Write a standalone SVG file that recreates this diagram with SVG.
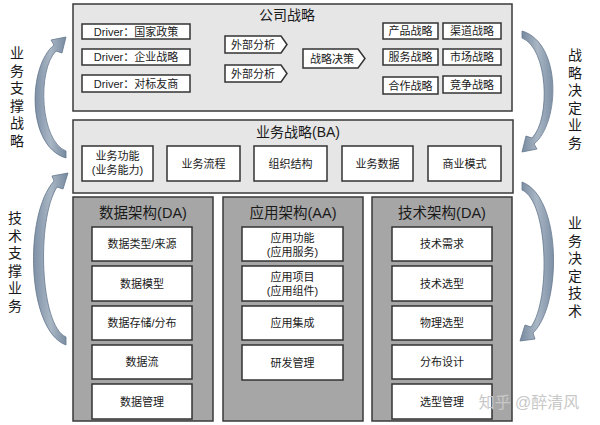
<svg xmlns="http://www.w3.org/2000/svg" width="600" height="425" viewBox="0 0 600 425">
<defs>
<linearGradient id="ag" x1="0" y1="0" x2="1" y2="0">
<stop offset="0" stop-color="#7f91a7"/>
<stop offset="0.5" stop-color="#a9b6c4"/>
<stop offset="1" stop-color="#778aa0"/>
</linearGradient>
<style>
text{font-family:"Liberation Sans","Noto Sans CJK SC",sans-serif;fill:#1a1a1a;text-anchor:middle}
.outer{fill:#e6e6e6;stroke:#3a3a3a;stroke-width:1.5}
.col{fill:#a6a6a6;stroke:#3a3a3a;stroke-width:1.5}
.box{fill:#fff;stroke:#333;stroke-width:1.5}
.t11{font-size:11px}
.t14{font-size:14px}
.t16{font-size:14.5px}
.side{font-size:14px}
.arr{fill:url(#ag);stroke:#64778d;stroke-width:0.8}
.wm{fill:#c8c8c8;font-size:16px}
</style>
</defs>
<rect width="600" height="425" fill="#fff"/>

<g id="company">
<rect class="outer" x="73" y="4" width="439" height="107"/>
<text class="t14" x="287" y="20">公司战略</text>
<g id="drv1"><rect class="box" x="82" y="24" width="108" height="15"/><text class="t11" x="136" y="35.5">Driver：国家政策</text></g>
<g id="drv2"><rect class="box" x="82" y="49" width="108" height="16"/><text class="t11" x="136" y="61">Driver：企业战略</text></g>
<g id="drv3"><rect class="box" x="82" y="75" width="108" height="17"/><text class="t11" x="136" y="87.5">Driver：对标友商</text></g>
<g id="ext1"><path class="box" d="M225 36 H281 L287 44.5 L281 53 H225 Z"/><text class="t11" x="253" y="48.5">外部分析</text></g>
<g id="ext2"><path class="box" d="M225 65 H281 L287 73.5 L281 82 H225 Z"/><text class="t11" x="253" y="77.5">外部分析</text></g>
<g id="decide"><path class="box" d="M303 49 H358 L365 58.5 L358 68 H303 Z"/><text class="t11" x="332" y="62.5">战略决策</text></g>
<g id="s1"><rect class="box" x="383" y="23" width="55" height="16"/><text class="t11" x="410.5" y="35">产品战略</text></g>
<g id="s2"><rect class="box" x="443" y="23" width="58" height="16"/><text class="t11" x="472" y="35">渠道战略</text></g>
<g id="s3"><rect class="box" x="383" y="49" width="55" height="16"/><text class="t11" x="410.5" y="61">服务战略</text></g>
<g id="s4"><rect class="box" x="443" y="49" width="58" height="16"/><text class="t11" x="472" y="61">市场战略</text></g>
<g id="s5"><rect class="box" x="383" y="77" width="55" height="17"/><text class="t11" x="410.5" y="89.5">合作战略</text></g>
<g id="s6"><rect class="box" x="443" y="76" width="58" height="17"/><text class="t11" x="472" y="88.5">竞争战略</text></g>
</g>

<g id="ba">
<rect class="outer" x="73" y="120" width="440" height="73"/>
<text class="t14" x="298" y="137">业务战略(BA)</text>
<g id="ba1"><rect class="box" x="82" y="146" width="71" height="35"/><text class="t11" x="117.5" y="160">业务功能</text><text class="t11" x="117.5" y="174">(业务能力)</text></g>
<g id="ba2"><rect class="box" x="167" y="146" width="73" height="35"/><text class="t11" x="203.5" y="167.5">业务流程</text></g>
<g id="ba3"><rect class="box" x="254" y="146" width="73" height="35"/><text class="t11" x="290.5" y="167.5">组织结构</text></g>
<g id="ba4"><rect class="box" x="342" y="146" width="71" height="35"/><text class="t11" x="377.5" y="167.5">业务数据</text></g>
<g id="ba5"><rect class="box" x="428" y="146" width="73" height="35"/><text class="t11" x="464.5" y="167.5">商业模式</text></g>
</g>

<g id="da">
<rect class="col" x="73" y="197" width="140" height="224"/>
<text class="t16" x="143" y="218">数据架构(DA)</text>
<g id="da1"><rect class="box" x="92" y="227" width="100" height="34"/><text class="t11" x="142" y="248">数据类型/来源</text></g>
<g id="da2"><rect class="box" x="92" y="266" width="100" height="35"/><text class="t11" x="142" y="287.5">数据模型</text></g>
<g id="da3"><rect class="box" x="92" y="306" width="100" height="34"/><text class="t11" x="142" y="327">数据存储/分布</text></g>
<g id="da4"><rect class="box" x="92" y="345" width="100" height="34"/><text class="t11" x="142" y="366">数据流</text></g>
<g id="da5"><rect class="box" x="92" y="384" width="100" height="35"/><text class="t11" x="142" y="405.5">数据管理</text></g>
</g>

<g id="aa">
<rect class="col" x="223" y="197" width="140" height="224"/>
<text class="t16" x="293" y="218">应用架构(AA)</text>
<g id="aa1"><rect class="box" x="242" y="227" width="101" height="34"/><text class="t11" x="292.5" y="241.5">应用功能</text><text class="t11" x="292.5" y="255.5">(应用服务)</text></g>
<g id="aa2"><rect class="box" x="242" y="266" width="101" height="35"/><text class="t11" x="292.5" y="280.5">应用项目</text><text class="t11" x="292.5" y="294.5">(应用组件)</text></g>
<g id="aa3"><rect class="box" x="242" y="306" width="101" height="34"/><text class="t11" x="292.5" y="327">应用集成</text></g>
<g id="aa4"><rect class="box" x="242" y="345" width="101" height="35"/><text class="t11" x="292.5" y="366.5">研发管理</text></g>
</g>

<g id="ta">
<rect class="col" x="372" y="197" width="140" height="224"/>
<text class="t16" x="442" y="218">技术架构(DA)</text>
<g id="ta1"><rect class="box" x="392" y="227" width="100" height="34"/><text class="t11" x="442" y="248">技术需求</text></g>
<g id="ta2"><rect class="box" x="392" y="266" width="100" height="35"/><text class="t11" x="442" y="287.5">技术选型</text></g>
<g id="ta3"><rect class="box" x="392" y="306" width="100" height="34"/><text class="t11" x="442" y="327">物理选型</text></g>
<g id="ta4"><rect class="box" x="392" y="345" width="100" height="34"/><text class="t11" x="442" y="366">分布设计</text></g>
<g id="ta5"><rect class="box" x="392" y="384" width="100" height="35"/><text class="t11" x="442" y="405.5">选型管理</text></g>
</g>

<g id="connectors">
<path id="arrLT" class="arr" d="M66 151 C40 141 37 70 56 51 L62 53 L66 37 L51 40 L54 45 C28 66 26 146 66 158 Z"/>
<path id="arrLB" class="arr" d="M66 337 C40 326 36 220 57 187 L63 189 L68 173 L52 176 L54 181 C24 214 26 330 66 345 Z"/>
<path id="arrRT" class="arr" transform="rotate(180 294 94.5)" d="M66 151 C40 141 37 70 56 51 L62 53 L66 37 L51 40 L54 45 C28 66 26 146 66 158 Z"/>
<path id="arrRB" class="arr" transform="rotate(180 294 263.5)" d="M66 337 C40 326 37 228 57 200 L63 202 L68 186 L53 188 L55 194 C26 222 26 330 66 345 Z"/>
</g>

<g id="labels">
<text class="side" x="17" y="58">业</text><text class="side" x="17" y="75.5">务</text><text class="side" x="17" y="93">支</text><text class="side" x="17" y="110.5">撑</text><text class="side" x="17" y="128">战</text><text class="side" x="17" y="145.5">略</text>
<text class="side" x="15" y="223">技</text><text class="side" x="15" y="240.5">术</text><text class="side" x="15" y="258">支</text><text class="side" x="15" y="275.5">撑</text><text class="side" x="15" y="293">业</text><text class="side" x="15" y="310.5">务</text>
<text class="side" x="575" y="60">战</text><text class="side" x="575" y="77.5">略</text><text class="side" x="575" y="95">决</text><text class="side" x="575" y="112.5">定</text><text class="side" x="575" y="130">业</text><text class="side" x="575" y="147.5">务</text>
<text class="side" x="575" y="228">业</text><text class="side" x="575" y="245.5">务</text><text class="side" x="575" y="263">决</text><text class="side" x="575" y="280.5">定</text><text class="side" x="575" y="298">技</text><text class="side" x="575" y="315.5">术</text>
</g>
<text class="wm" x="529" y="408">知乎 @醉清风</text>
</svg>
